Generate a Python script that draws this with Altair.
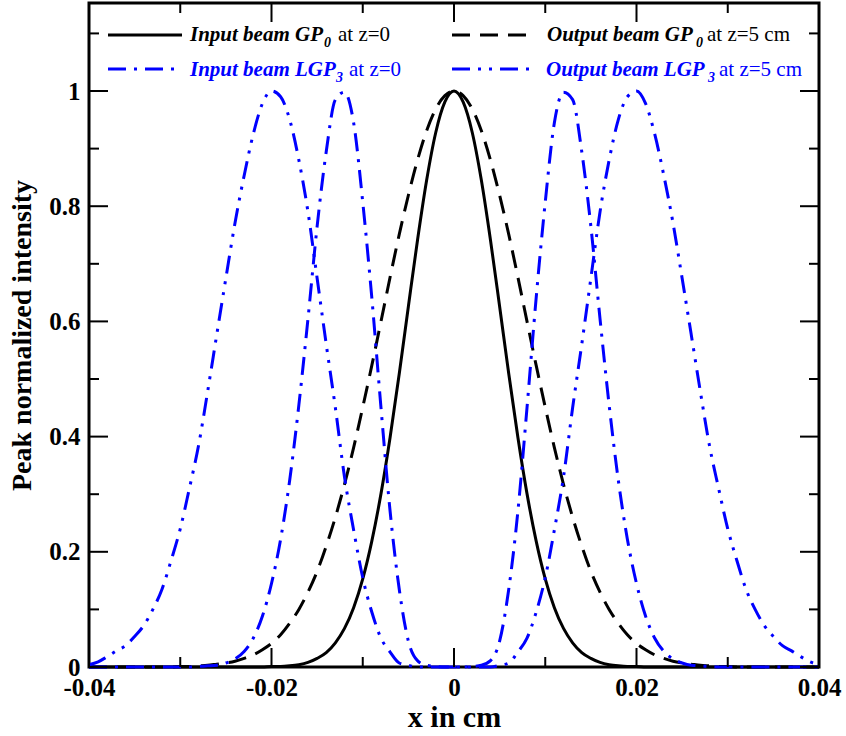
import altair as alt
import pandas as pd

# ---------------- data ----------------
X_CM = [
    -0.040, -0.039, -0.038, -0.037, -0.036, -0.035, -0.034, -0.033, -0.032, -0.031,
    -0.030, -0.029, -0.028, -0.027, -0.026, -0.025, -0.024, -0.023, -0.022, -0.021,
    -0.020, -0.019, -0.018, -0.017, -0.016, -0.015, -0.014, -0.013, -0.012, -0.011,
    -0.010, -0.009, -0.008, -0.007, -0.006, -0.005, -0.004, -0.003, -0.002, -0.001,
    0.000,
    0.001, 0.002, 0.003, 0.004, 0.005, 0.006, 0.007, 0.008, 0.009, 0.010,
    0.011, 0.012, 0.013, 0.014, 0.015, 0.016, 0.017, 0.018, 0.019, 0.020,
    0.021, 0.022, 0.023, 0.024, 0.025, 0.026, 0.027, 0.028, 0.029, 0.030,
    0.031, 0.032, 0.033, 0.034, 0.035, 0.036, 0.037, 0.038, 0.039, 0.040,
]

# Input beam GP0 at z=0 (solid black)
INPUT_GP0 = [
    0, 0, 0, 0, 0, 0, 0, 0, 0, 0,
    0, 0, 0, 0, 0, 0, 0, 0, 0, 0,
    0.001, 0.001, 0.002, 0.004, 0.008, 0.015, 0.025, 0.042, 0.067, 0.103,
    0.153, 0.219, 0.301, 0.399, 0.509, 0.626, 0.741, 0.845, 0.928, 0.981,
    1.000,
    0.981, 0.928, 0.845, 0.741, 0.626, 0.509, 0.399, 0.301, 0.219, 0.153,
    0.103, 0.067, 0.042, 0.025, 0.015, 0.008, 0.004, 0.002, 0.001, 0.001,
    0, 0, 0, 0, 0, 0, 0, 0, 0, 0,
    0, 0, 0, 0, 0, 0, 0, 0, 0, 0,
]

# Output beam GP0 at z=5 cm (dashed black)
OUTPUT_GP0 = [
    0, 0, 0, 0, 0, 0, 0, 0, 0, 0,
    0.001, 0.001, 0.002, 0.003, 0.005, 0.007, 0.010, 0.015, 0.021, 0.030,
    0.041, 0.056, 0.076, 0.100, 0.130, 0.166, 0.210, 0.260, 0.317, 0.381,
    0.451, 0.524, 0.600, 0.677, 0.751, 0.819, 0.880, 0.931, 0.969, 0.992,
    1.000,
    0.992, 0.969, 0.931, 0.880, 0.819, 0.751, 0.677, 0.600, 0.524, 0.451,
    0.381, 0.317, 0.260, 0.210, 0.166, 0.130, 0.100, 0.076, 0.056, 0.041,
    0.030, 0.021, 0.015, 0.010, 0.007, 0.005, 0.003, 0.002, 0.001, 0.001,
    0, 0, 0, 0, 0, 0, 0, 0, 0, 0,
]

# Input beam LGP3 at z=0 (blue dash-dot)
INPUT_LGP3 = [
    0, 0, 0, 0, 0, 0, 0, 0, 0, 0,
    0, 0, 0.001, 0.002, 0.003, 0.007, 0.014, 0.027, 0.050, 0.088,
    0.145, 0.222, 0.325, 0.455, 0.605, 0.765, 0.895, 0.985, 0.998, 0.945,
    0.807, 0.640, 0.450, 0.270, 0.135, 0.045, 0.011, 0.003, 0.001, 0,
    0,
    0, 0.001, 0.003, 0.011, 0.045, 0.135, 0.270, 0.450, 0.640, 0.807,
    0.945, 0.998, 0.985, 0.895, 0.765, 0.605, 0.455, 0.325, 0.222, 0.145,
    0.088, 0.050, 0.027, 0.014, 0.007, 0.003, 0.002, 0.001, 0, 0,
    0, 0, 0, 0, 0, 0, 0, 0, 0, 0,
]

# Output beam LGP3 at z=5 cm (blue dash-dot-dot)
OUTPUT_LGP3 = [
    0.004, 0.009, 0.018, 0.028, 0.037, 0.053, 0.072, 0.100, 0.135, 0.185,
    0.240, 0.310, 0.384, 0.478, 0.577, 0.675, 0.771, 0.853, 0.925, 0.978,
    1.000, 0.990, 0.950, 0.880, 0.790, 0.675, 0.560, 0.450, 0.330, 0.238,
    0.155, 0.095, 0.050, 0.026, 0.007, 0.003, 0, 0, 0, 0,
    0,
    0, 0, 0, 0, 0.003, 0.007, 0.026, 0.050, 0.095, 0.155,
    0.238, 0.330, 0.450, 0.560, 0.675, 0.790, 0.880, 0.950, 0.990, 1.000,
    0.978, 0.925, 0.853, 0.771, 0.675, 0.577, 0.478, 0.384, 0.310, 0.240,
    0.185, 0.135, 0.100, 0.072, 0.053, 0.037, 0.028, 0.018, 0.009, 0.004,
]

X_MAJOR = [-0.04, -0.02, 0, 0.02, 0.04]
X_MINOR = [-0.03, -0.01, 0.01, 0.03]
Y_MAJOR = [0, 0.2, 0.4, 0.6, 0.8, 1.0]
Y_MINOR = [0.1, 0.3, 0.5, 0.7, 0.9, 1.1]

LEGEND_MAIN = ["Input beam GP", "Output beam GP", "Input beam LGP", "Output beam LGP"]
LEGEND_SUB = ["0", "0", "3", "3"]
LEGEND_TAIL = ["at z=0", "at z=5 cm", "at z=0", "at z=5 cm"]

X_TITLE = "x in cm"
Y_TITLE = "Peak normalized intensity"

# ---------------- styling ----------------
FONT = "Liberation Serif"
BLACK = "#000000"
BLUE = "#0000ff"
PLOT_W, PLOT_H = 730, 664
DASHED = [18, 10]
DASH_DOT = [18, 8, 3, 8]
DASH_DOT_DOT = [18, 8, 3, 8, 3, 8]

X_SCALE = alt.Scale(domain=[-0.04, 0.04], nice=False, zero=False)
Y_SCALE = alt.Scale(domain=[0, 1.1528], nice=False, zero=False)

X_AXIS = alt.Axis(
    values=X_MAJOR, format="~g", labelExpr="replace(datum.label, '\u2212', '-')",
    labelFont=FONT, labelFontSize=25, labelFontWeight="bold", labelColor=BLACK,
    labelPadding=8, labelFlush=False, labelOverlap=False,
    ticks=False, domain=False, grid=False,
    title=X_TITLE, titleFont=FONT, titleFontSize=30, titleFontWeight="bold",
    titleColor=BLACK, titlePadding=2,
)
Y_AXIS = alt.Axis(
    values=Y_MAJOR, format="~g",
    labelFont=FONT, labelFontSize=25, labelFontWeight="bold", labelColor=BLACK,
    labelPadding=9, labelFlush=False, labelOverlap=False,
    ticks=False, domain=False, grid=False,
    title=Y_TITLE, titleFont=FONT, titleFontSize=28, titleFontWeight="bold",
    titleColor=BLACK, titlePadding=12,
)


def curve(values, color, dash=None):
    df = pd.DataFrame({"x": X_CM, "y": values})
    kw = dict(color=color, strokeWidth=3, interpolate="monotone")
    if dash:
        kw["strokeDash"] = dash
    return alt.Chart(df).mark_line(**kw).encode(
        x=alt.X("x:Q", scale=X_SCALE, axis=X_AXIS),
        y=alt.Y("y:Q", scale=Y_SCALE, axis=Y_AXIS),
    )


def xticks(vals, length, top):
    df = pd.DataFrame({"x": vals})
    y0 = 0 if top else PLOT_H
    y1 = length if top else PLOT_H - length
    return alt.Chart(df).mark_rule(color=BLACK, strokeWidth=2).encode(
        x=alt.X("x:Q", scale=X_SCALE, axis=X_AXIS),
        y=alt.value(y0), y2=alt.value(y1),
    )


def yticks(vals, length, right):
    df = pd.DataFrame({"y": vals})
    x0 = PLOT_W if right else 0
    x1 = PLOT_W - length if right else length
    return alt.Chart(df).mark_rule(color=BLACK, strokeWidth=2).encode(
        y=alt.Y("y:Q", scale=Y_SCALE, axis=Y_AXIS),
        x=alt.value(x0), x2=alt.value(x1),
    )


ONE = pd.DataFrame({"a": [0]})


def legend_entry(i, lx0, lx1, ly, tx, by, sx, tlx, color, dash):
    kw = dict(color=color, strokeWidth=3)
    if dash:
        kw["strokeDash"] = dash
    line = alt.Chart(ONE).mark_rule(**kw).encode(
        x=alt.value(lx0), x2=alt.value(lx1), y=alt.value(ly))
    main = alt.Chart(ONE).mark_text(
        align="left", baseline="alphabetic", font=FONT, fontSize=21,
        fontStyle="italic", fontWeight="bold", color=color, text=LEGEND_MAIN[i],
    ).encode(x=alt.value(tx), y=alt.value(by))
    sub = alt.Chart(ONE).mark_text(
        align="left", baseline="alphabetic", font=FONT, fontSize=14,
        fontStyle="italic", fontWeight="bold", color=color, text=LEGEND_SUB[i],
    ).encode(x=alt.value(sx), y=alt.value(by + 6))
    tail = alt.Chart(ONE).mark_text(
        align="left", baseline="alphabetic", font=FONT, fontSize=21,
        color=color, text=LEGEND_TAIL[i],
    ).encode(x=alt.value(tlx), y=alt.value(by))
    return [line, main, sub, tail]


layers = [
    curve(INPUT_GP0, BLACK, None),
    curve(OUTPUT_GP0, BLACK, DASHED),
    curve(INPUT_LGP3, BLUE, DASH_DOT),
    curve(OUTPUT_LGP3, BLUE, DASH_DOT_DOT),
    xticks(X_MAJOR, 19, False), xticks(X_MINOR, 10, False),
    xticks(X_MAJOR, 19, True), xticks(X_MINOR, 10, True),
    yticks(Y_MAJOR, 19, False), yticks(Y_MINOR, 10, False),
    yticks(Y_MAJOR, 19, True), yticks(Y_MINOR, 10, True),
]
layers += legend_entry(0, 19, 93, 32, 101, 38, 235, 249, BLACK, None)
layers += legend_entry(1, 363, 444, 32, 458, 38, 607, 618, BLACK, DASHED)
layers += legend_entry(2, 19, 93, 66, 101, 73, 247, 260, BLUE, DASH_DOT)
layers += legend_entry(3, 363, 444, 66, 457, 73, 619, 630, BLUE, DASH_DOT_DOT)

chart = alt.layer(*layers).properties(
    width=PLOT_W, height=PLOT_H,
    autosize=alt.AutoSizeParams(type="none"),
    padding={"left": 89, "top": 3, "right": 27, "bottom": 69},
    background="white",
).configure_view(stroke=BLACK, strokeWidth=3)

chart.save("out.html", embed_options={"renderer": "svg", "actions": False})
